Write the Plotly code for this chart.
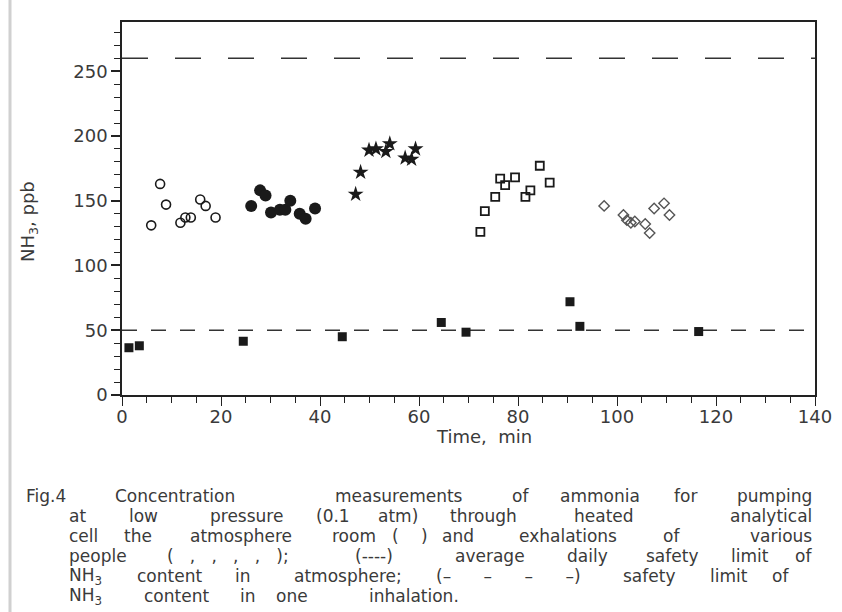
import plotly.graph_objects as go

# ---------------- data ----------------
open_circle_t = [5.9, 7.7, 8.9, 11.8, 12.8, 13.9, 15.8, 16.9, 18.9]
open_circle_v = [131, 163, 147, 133, 137, 137, 151, 146, 137]

filled_circle_t = [26.1, 27.9, 29.0, 30.1, 31.9, 33.0, 34.0, 35.9, 37.1, 39.0]
filled_circle_v = [146, 158, 154, 141, 143, 143, 150, 140, 136, 144]

star_t = [47.2, 48.2, 49.9, 51.3, 53.3, 54.1, 57.2, 58.5, 59.3]
star_v = [155, 172, 189, 190, 188, 194, 183, 182, 190]

open_square_t = [72.4, 73.3, 75.4, 76.4, 77.4, 79.4, 81.5, 82.5, 84.4, 86.4]
open_square_v = [126, 142, 153, 167, 162, 168, 153, 158, 177, 164]

diamond_t = [97.4, 101.3, 102.0, 102.8, 103.6, 105.7, 106.6, 107.5, 109.5, 110.6]
diamond_v = [146, 139, 135, 133, 134, 132, 125, 144, 148, 139]

room_t = [1.4, 3.5, 24.5, 44.5, 64.5, 69.5, 90.5, 92.5, 116.5]
room_v = [36.5, 38, 41.5, 45, 56, 48.5, 72, 53, 49]

limit_t = [0, 140]
daily_limit = [50, 50]
inhalation_limit = [260, 260]

x_ticks = [0, 20, 40, 60, 80, 100, 120, 140]
y_ticks = [0, 50, 100, 150, 200, 250]

NB = "\u00a0"
people_marks = "(" + NB * 3 + ("," + NB * 3) * 4 + ");"
long_dash = "(\u2013" + (NB * 6 + "\u2013") * 3 + ")"

# caption words with their left / right extent (pixels) in the reference
caption_lines = [
    [("Fig.4", 25, 71), ("Concentration", 84, 266), ("measurements", 300, 497),
     ("of", 508, 532), ("ammonia", 542, 658), ("for", 668, 703), ("pumping", 716, 813)],
    [("at", 68, 95), ("low", 124, 163), ("pressure", 192, 300), ("(0.1", 308, 358),
     ("atm)", 366, 429), ("through", 437, 529), ("heated", 561, 647), ("analytical", 684, 813)],
    [("cell", 68, 110), ("the", 118, 158), ("atmosphere", 166, 316), ("room", 324, 384),
     ("(", 392, 398), (")", 421, 427), ("and", 434, 482), ("exhalations", 489, 647),
     ("of", 658, 684), ("various", 692, 813)],
    [("people", 68, 158), (people_marks, 171, 284), ("(----)", 326, 421),
     ("average", 437, 542), ("daily", 553, 621), ("safety", 632, 711),
     ("limit", 721, 779), ("of", 789, 813)],
    [("NH<sub>3</sub>", 68, 110), ("content", 118, 221), ("in", 232, 253),
     ("atmosphere;", 263, 432), (long_dash, 437, 579), ("safety", 608, 689),
     ("limit", 700, 758), ("of", 766, 790)],
    [("NH<sub>3</sub>", 68, 110), ("content", 128, 225), ("in", 240, 255),
     ("one", 268, 316), ("inhalation.", 326, 460)],
]

# ---------------- figure ----------------
FONT = "DejaVu Sans"
INK = "#1a1a1a"
TXT = "#3a3a3a"

fig = go.Figure()

fig.add_trace(go.Scatter(x=limit_t, y=inhalation_limit, mode="lines",
                         line=dict(color="#333", width=1.5, dash="26px,27px"),
                         showlegend=False, hoverinfo="skip"))
fig.add_trace(go.Scatter(x=limit_t, y=daily_limit, mode="lines",
                         line=dict(color="#333", width=1.5, dash="15px,14px"),
                         showlegend=False, hoverinfo="skip"))

fig.add_trace(go.Scatter(x=open_circle_t, y=open_circle_v, mode="markers",
                         marker=dict(symbol="circle-open", size=9, color=INK,
                                     line=dict(width=1.6, color=INK)),
                         showlegend=False))
fig.add_trace(go.Scatter(x=filled_circle_t, y=filled_circle_v, mode="markers",
                         marker=dict(symbol="circle", size=12, color=INK),
                         showlegend=False))
fig.add_trace(go.Scatter(x=star_t, y=star_v, mode="markers",
                         marker=dict(symbol="star", size=12, color=INK),
                         showlegend=False))
fig.add_trace(go.Scatter(x=open_square_t, y=open_square_v, mode="markers",
                         marker=dict(symbol="square-open", size=8, color=INK,
                                     line=dict(width=1.8, color=INK)),
                         showlegend=False))
fig.add_trace(go.Scatter(x=diamond_t, y=diamond_v, mode="markers",
                         marker=dict(symbol="diamond-open", size=8, color="#555",
                                     line=dict(width=1.4, color="#555")),
                         showlegend=False))
fig.add_trace(go.Scatter(x=room_t, y=room_v, mode="markers",
                         marker=dict(symbol="square", size=9, color=INK),
                         showlegend=False, cliponaxis=False))

fig.update_xaxes(range=[0, 140], tickvals=x_ticks, ticktext=[str(v) for v in x_ticks],
                 automargin=False, ticklabelstandoff=-4,
                 showline=True, linecolor="#222", linewidth=1.5, mirror=True,
                 ticks="outside", ticklen=9, tickwidth=1.3, tickcolor="#222",
                 minor=dict(dtick=5, ticks="outside", ticklen=6, tickwidth=1.2, tickcolor="#222"),
                 showgrid=False, zeroline=False,
                 tickfont=dict(family=FONT, size=18, color=TXT))
fig.update_yaxes(range=[0, 288], tickvals=y_ticks, ticktext=[str(v) for v in y_ticks],
                 automargin=False,
                 showline=True, linecolor="#222", linewidth=1.5, mirror=True,
                 ticks="outside", ticklen=9, tickwidth=1.5, tickcolor="#222",
                 minor=dict(dtick=10, ticks="outside", ticklen=6, tickwidth=1.2, tickcolor="#222"),
                 showgrid=False, zeroline=False,
                 tickfont=dict(family=FONT, size=18, color=TXT))

L, R, T, B = 122, 27, 22, 217
W, H = 842, 612
pw, ph = W - L - R, H - T - B


def px_x(px):
    return (px - L) / pw


def px_y(py):
    return (H - B - py) / ph


annotations = [
    dict(text="NH<sub>3</sub>, ppb", x=px_x(29), y=px_y(222), xref="paper", yref="paper",
         textangle=-90, showarrow=False, xanchor="center", yanchor="middle",
         font=dict(family=FONT, size=18, color=TXT)),
    dict(text="Time,  min", x=px_x(484), y=px_y(436), xref="paper", yref="paper",
         showarrow=False, xanchor="center", yanchor="middle",
         font=dict(family=FONT, size=18, color=TXT)),
]

line_y = [496, 516, 536, 556, 576, 596]
for words, yy in zip(caption_lines, line_y):
    n = len(words)
    for i, (word, x0, x1) in enumerate(words):
        if i == 0:
            xx, anchor = x0, "left"
        elif i == n - 1:
            xx, anchor = x1, "right"
        else:
            xx, anchor = (x0 + x1) / 2, "center"
        annotations.append(dict(text=word, x=px_x(xx), y=px_y(yy), xref="paper", yref="paper",
                                showarrow=False, xanchor=anchor, yanchor="middle",
                                borderpad=0,
                                font=dict(family=FONT, size=17, color=TXT)))

fig.update_layout(
    width=W, height=H,
    margin=dict(l=L, r=R, t=T, b=B, autoexpand=False),
    paper_bgcolor="white", plot_bgcolor="white",
    annotations=annotations,
    shapes=[dict(type="line", xref="paper", yref="paper",
                 x0=px_x(10), x1=px_x(10), y0=px_y(0), y1=px_y(612),
                 line=dict(color="#d0d0d0", width=3))],
)

fig.write_html("out.html", config={"displayModeBar": False},
               post_script="document.body.style.margin='0';document.body.style.overflow='hidden';")
